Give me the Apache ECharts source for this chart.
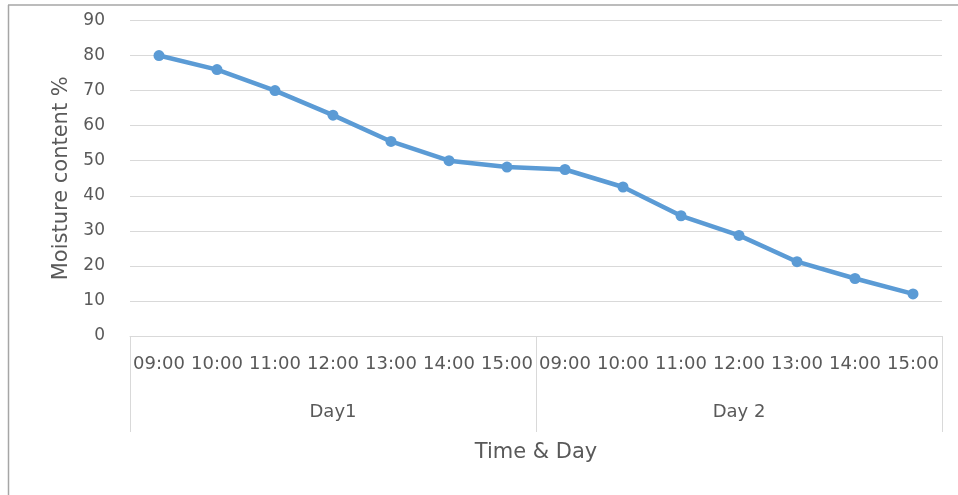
<!DOCTYPE html>
<html>
<head>
<meta charset="utf-8">
<script src="https://cdn.jsdelivr.net/npm/echarts@6/dist/echarts.min.js"></script>
<style>
  html, body { margin: 0; padding: 0; background: #ffffff; }
  #chart { width: 958px; height: 495px; }
</style>
</head>
<body>
<div id="chart"></div>
<script>
// Hourly readings over two drying days
const hours = ['09:00', '10:00', '11:00', '12:00', '13:00', '14:00', '15:00',
               '09:00', '10:00', '11:00', '12:00', '13:00', '14:00', '15:00'];
const days = ['Day1', 'Day 2'];
const moisture = [80, 76, 70, 63, 55.5, 50, 48.2, 47.5, 42.5, 34.3, 28.7, 21.2, 16.4, 12];
const yTicks = { min: 0, max: 90, step: 10 };

const textColor = '#595959';
const gridColor = '#d9d9d9';
const fontFamily = '"DejaVu Sans", sans-serif';

const chart = echarts.init(document.getElementById('chart'));
chart.setOption({
  animation: false,
  backgroundColor: '#ffffff',
  textStyle: { fontFamily: fontFamily },
  grid: { left: 130, right: 16, top: 20.5, bottom: 159, containLabel: false },
  graphic: [
    { type: 'line', shape: { x1: 8, y1: 5, x2: 958, y2: 5 },
      style: { stroke: '#a6a6a6', lineWidth: 1.5 } },
    { type: 'line', shape: { x1: 8.5, y1: 5, x2: 8.5, y2: 495 },
      style: { stroke: '#a6a6a6', lineWidth: 1.5 } }
  ],
  xAxis: [
    {
      type: 'category',
      data: hours,
      position: 'bottom',
      boundaryGap: true,
      axisLine: { show: true, lineStyle: { color: gridColor, width: 1 } },
      axisTick: { show: false },
      axisLabel: { color: textColor, fontSize: 18, margin: 19, interval: 0, fontFamily: fontFamily }
    },
    {
      type: 'category',
      data: days,
      position: 'bottom',
      boundaryGap: true,
      axisLine: { show: false },
      axisTick: { show: true, length: 96, lineStyle: { color: gridColor, width: 1 } },
      axisLabel: { color: textColor, fontSize: 18, margin: 67, interval: 0, fontFamily: fontFamily },
      name: 'Time & Day',
      nameLocation: 'middle',
      nameGap: 106,
      nameTextStyle: { color: textColor, fontSize: 21, fontFamily: fontFamily }
    }
  ],
  yAxis: {
    type: 'value',
    min: yTicks.min,
    max: yTicks.max,
    interval: yTicks.step,
    axisLine: { show: false },
    axisTick: { show: false },
    splitLine: { show: true, lineStyle: { color: gridColor, width: 1 } },
    axisLabel: { color: textColor, fontSize: 17, margin: 25, fontFamily: fontFamily },
    name: 'Moisture content %',
    nameLocation: 'middle',
    nameGap: 57,
    nameRotate: 90,
    nameTextStyle: { color: textColor, fontSize: 21, fontFamily: fontFamily }
  },
  series: [{
    type: 'line',
    data: moisture,
    xAxisIndex: 0,
    symbol: 'circle',
    symbolSize: 11,
    lineStyle: { color: '#5b9bd5', width: 4.5 },
    itemStyle: { color: '#5b9bd5' }
  }]
});
</script>
</body>
</html>
